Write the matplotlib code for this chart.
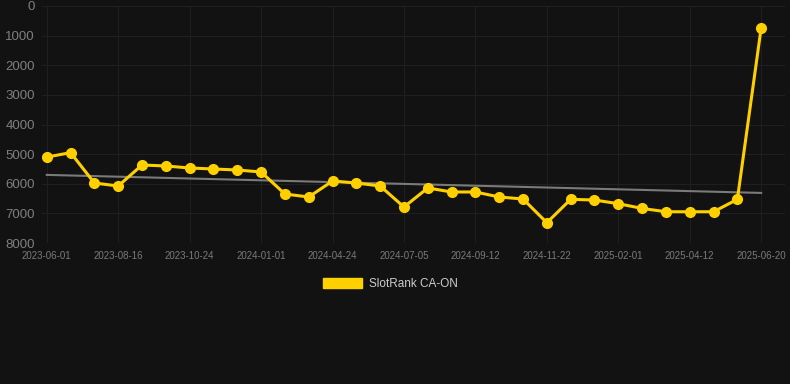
import numpy as np
import matplotlib
matplotlib.use("Agg")
import matplotlib.pyplot as plt
from matplotlib.patches import Patch

plt.rcParams["font.family"] = ["Liberation Sans", "DejaVu Sans"]

# rank per observation (lower is better, axis is inverted)
ranks = [5100, 4950, 5975, 6076, 5367, 5400, 5468, 5502, 5536, 5603,
         6346, 6447, 5907, 5975, 6076, 6785, 6143, 6278, 6278, 6447,
         6515, 7315, 6526, 6549, 6673, 6833, 6945, 6945, 6945, 6526,
         732]
tick_labels = ["2023-06-01", "2023-08-16", "2023-10-24", "2024-01-01",
               "2024-04-24", "2024-07-05", "2024-09-12", "2024-11-22",
               "2025-02-01", "2025-04-12", "2025-06-20"]
series_name = "SlotRank CA-ON"

bg = "#121212"
gold = "#FFD000"

fig = plt.figure(figsize=(7.9, 3.84), dpi=100, facecolor=bg)
W, H = 790, 384
ax = fig.add_axes([42 / W, 1 - 243 / H, (785 - 42) / W, (243 - 6) / H])
ax.set_facecolor(bg)

x = np.arange(len(ranks))
y = np.array(ranks, dtype=float)

# trend line (least squares)
k, b = np.polyfit(x, y, 1)
ax.plot(x, k * x + b, color="#7a7a7a", lw=1.5, zorder=2)

ax.plot(x, y, color=gold, lw=2.2, marker="o", ms=7, zorder=3)

ax.set_ylim(8000, 0)
ax.set_yticks(np.arange(0, 8001, 1000))
ax.set_xlim(-0.2, 31.0)
ax.set_xticks(np.arange(0, len(ranks), 3))
ax.set_xticklabels(tick_labels)

ax.grid(True, color="#1f1f1f", lw=0.8)
ax.set_axisbelow(True)
for s in ax.spines.values():
    s.set_visible(False)
ax.tick_params(axis="x", colors="#7a7a7a", labelsize=7, length=0, pad=6)
ax.tick_params(axis="y", colors="#7f7f7f", labelsize=9.5, length=0, pad=5)

handle = Patch(facecolor=gold, edgecolor=gold)
fig.legend([handle], [series_name], loc="center", bbox_to_anchor=(390 / W, 1 - 284 / H),
           frameon=False, labelcolor="#cccccc", fontsize=8.5,
           handlelength=3.3, handleheight=0.9, handletextpad=0.6)

fig.savefig("out.png", dpi=100, facecolor=bg)
